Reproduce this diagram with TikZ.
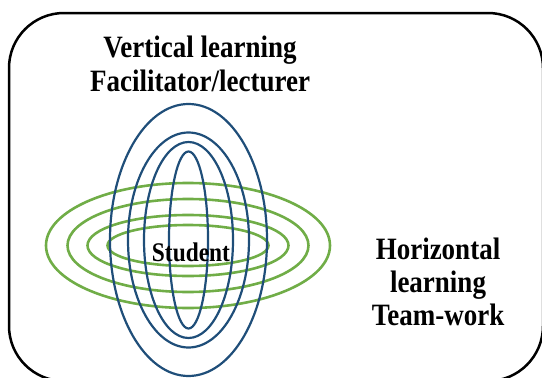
\documentclass[tikz,border=0pt]{standalone}
\usepackage{fontspec}
\usepackage{graphicx}
\setmainfont{Liberation Serif}
\definecolor{vblue}{HTML}{1F4E79}
\definecolor{hgreen}{HTML}{70AD47}
\tikzset{
  frame/.style={draw=black, line width=2.5pt, rounded corners=55pt},
  vring/.style={draw=vblue, line width=2.2pt},
  hring/.style={draw=hgreen, line width=2.6pt},
  bigtext/.style={inner sep=0pt, anchor=base, font=\bfseries\fontsize{27}{30}\selectfont},
  midtext/.style={inner sep=0pt, anchor=base, font=\bfseries\fontsize{23.4}{26}\selectfont}
}
\newcommand{\vstretch}[1]{\scalebox{1}[1.15]{#1}}
\begin{document}
\begin{tikzpicture}[x=1pt,y=-1pt]
\useasboundingbox (0,0) rectangle (542,378);
\draw[frame] (9,13) rectangle (543,381);
% horizontal (green) rings
\coordinate (hc) at (188,245.5);
\draw[hring] (hc) ellipse [x radius=142pt, y radius=62.5pt];
\draw[hring] (hc) ellipse [x radius=120.5pt, y radius=46.5pt];
\draw[hring] (hc) ellipse [x radius=100.5pt, y radius=30.5pt];
\draw[hring] (hc) ellipse [x radius=80.5pt, y radius=20.5pt];
% vertical (blue) rings
\coordinate (vc) at (188.5,240);
\draw[vring] (vc) ellipse [x radius=78.5pt, y radius=136pt];
\draw[vring] (vc) ellipse [x radius=60.5pt, y radius=107.5pt];
\draw[vring] (vc) ellipse [x radius=44.5pt, y radius=98pt];
\draw[vring] (vc) ellipse [x radius=19.5pt, y radius=88.5pt];
% texts
\node[bigtext] (v1) at (200,57) {\vstretch{Vertical learning}};
\node[bigtext] (v2) at (200,91) {\vstretch{Facilitator/lecturer}};
\node[bigtext] (h1) at (438,259) {\vstretch{Horizontal}};
\node[bigtext] (h2) at (438,292) {\vstretch{learning}};
\node[bigtext] (h3) at (438,325) {\vstretch{Team-work}};
\node[midtext] (st) at (191,261) {\vstretch{Student}};
\end{tikzpicture}
\end{document}
